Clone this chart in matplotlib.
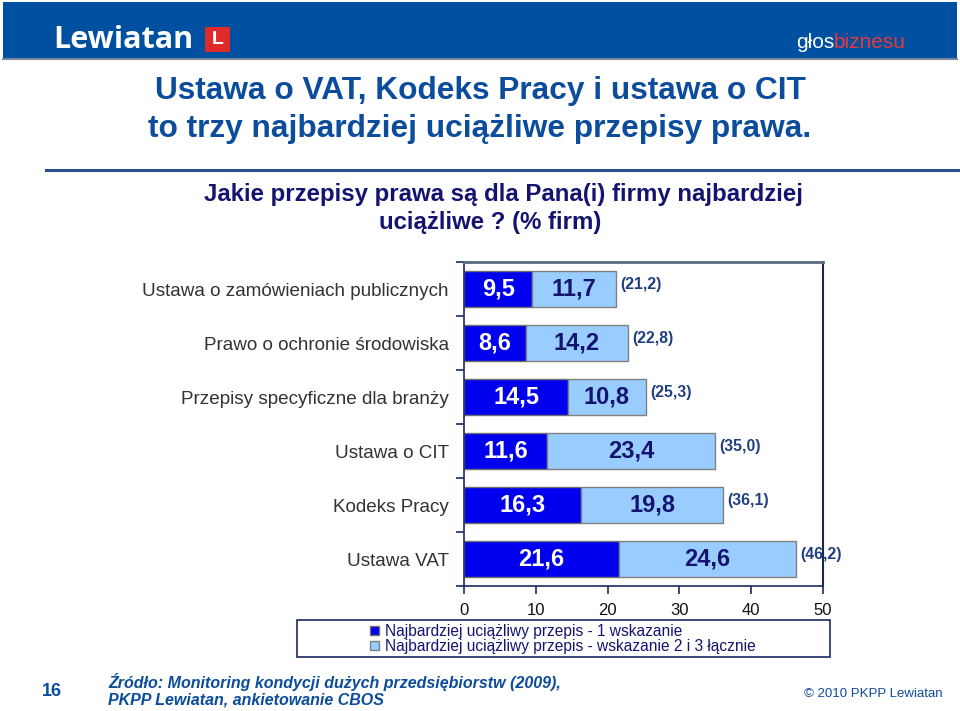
#!/usr/bin/env python3
"""Najbardziej uciazliwe przepisy prawa - stacked horizontal bars."""

import matplotlib

matplotlib.use("Agg")
import matplotlib.pyplot as plt
from matplotlib.patches import Rectangle
from matplotlib.lines import Line2D

plt.rcParams["font.family"] = ["Liberation Sans", "DejaVu Sans"]

# bottom-to-top order as drawn
categories = [
    "Ustawa VAT",
    "Kodeks Pracy",
    "Ustawa o CIT",
    "Przepisy specyficzne dla branży",
    "Prawo o ochronie środowiska",
    "Ustawa o zamówieniach publicznych",
]
first_choice = [21.6, 16.3, 11.6, 14.5, 8.6, 9.5]
second_third = [24.6, 19.8, 23.4, 10.8, 14.2, 11.7]
totals = [46.2, 36.1, 35.0, 25.3, 22.8, 21.2]
x_ticks = [0, 10, 20, 30, 40, 50]
legend_labels = [
    "Najbardziej uciążliwy przepis - 1 wskazanie",
    "Najbardziej uciążliwy przepis - wskazanie 2 i 3 łącznie",
]

W, H = 960, 711
DARK_BLUE = "#0000EE"
LIGHT_BLUE = "#99CCFF"
NAVY = "#141470"
TITLE_BLUE = "#0C4C9C"
HEADER = "#0050A2"


def fx(px):
    return px / W


def fy(py):
    return 1 - py / H


def fmt(v):
    return f"{v:.1f}".replace(".", ",")


fig = plt.figure(figsize=(W / 100, H / 100), dpi=100)

# header band and logos
fig.patches.append(Rectangle((fx(3), fy(59)), (957 - 3) / W, 57 / H, transform=fig.transFigure,
                             facecolor=HEADER, edgecolor="none", zorder=0))
fig.add_artist(Line2D([fx(3), fx(957)], [fy(59), fy(59)], transform=fig.transFigure,
                      color="#7a8aa0", lw=1.5))
fig.text(fx(53), fy(40), "Lewiatan", color="white", fontsize=22, fontweight="bold",
         va="center", ha="left", family=["Open Sans", "DejaVu Sans"])
fig.patches.append(Rectangle((fx(205), fy(52)), 25 / W, 25 / H, transform=fig.transFigure,
                             facecolor="#E02A2A", edgecolor="none"))
fig.text(fx(217.5), fy(39.5), "L", color="white", fontsize=14, fontweight="bold",
         ha="center", va="center")
fig.text(fx(796), fy(43), "głos", color="white", fontsize=15, va="center", ha="left",
         family=["Liberation Sans Narrow", "Liberation Sans"])
fig.text(fx(834), fy(43), "biznesu", color="#E8383C", fontsize=15, va="center", ha="left",
         family=["Liberation Sans Narrow", "Liberation Sans"])

# title block
fig.text(0.5, fy(91), "Ustawa o VAT, Kodeks Pracy i ustawa o CIT", color=TITLE_BLUE,
         fontsize=22.8, fontweight="bold", ha="center", va="center")
fig.text(0.5, fy(129), "to trzy najbardziej uciążliwe przepisy prawa.", color=TITLE_BLUE,
         fontsize=22.8, fontweight="bold", ha="center", va="center")
fig.add_artist(Line2D([fx(46), 1], [fy(170), fy(170)], transform=fig.transFigure,
                      color="#2A4E8C", lw=2.2))
fig.text(fx(503), fy(195), "Jakie przepisy prawa są dla Pana(i) firmy najbardziej", color=NAVY,
         fontsize=17.3, fontweight="bold", ha="center", va="center")
fig.text(fx(490), fy(222), "uciążliwe ? (% firm)", color=NAVY,
         fontsize=17.3, fontweight="bold", ha="center", va="center")

# chart
ax = fig.add_axes([fx(464), fy(586), fx(823) - fx(464), (586 - 262) / H])
y = list(range(len(categories)))
bars1 = ax.barh(y, first_choice, height=0.67, color=DARK_BLUE, edgecolor="#707070",
                linewidth=1, label=legend_labels[0])
bars2 = ax.barh(y, second_third, left=first_choice, height=0.67, color=LIGHT_BLUE,
                edgecolor="#808080", linewidth=1, label=legend_labels[1])

for i in y:
    ax.text(first_choice[i] / 2, i, fmt(first_choice[i]), color="white", fontsize=17,
            fontweight="bold", ha="center", va="center")
    ax.text(first_choice[i] + second_third[i] / 2, i, fmt(second_third[i]), color=NAVY,
            fontsize=17, fontweight="bold", ha="center", va="center")
    ax.annotate(f"({fmt(totals[i])})", (first_choice[i] + second_third[i], i),
                xytext=(3, 3), textcoords="offset points", color="#1F3F80",
                fontsize=11.3, fontweight="bold", ha="left", va="center",
                annotation_clip=False)

ax.set_xlim(0, 50)
ax.set_ylim(-0.5, len(categories) - 0.5)
ax.set_xticks(x_ticks)
ax.set_xticklabels([str(t) for t in x_ticks], fontsize=12, color="#111111")
ax.set_yticks(y)
ax.set_yticklabels(categories, fontsize=13.6, color="#333333")
ax.set_yticks([v - 0.5 for v in range(len(categories) + 1)], minor=True)
ax.tick_params(axis="y", which="major", length=0, pad=11)
ax.tick_params(axis="y", which="minor", length=6, width=1.2, color="#1A2A60", direction="out")
ax.tick_params(axis="x", length=6, width=1.2, color="#1A2A60", direction="out", pad=6)
ax.spines["left"].set_color("#1A2A60")
ax.spines["bottom"].set_color("#1A2A60")
ax.spines["left"].set_linewidth(1.2)
ax.spines["bottom"].set_linewidth(1.2)
ax.spines["top"].set_color("#5A6A7A")
ax.spines["right"].set_color("#1A2A40")
ax.spines["top"].set_linewidth(2)
ax.spines["right"].set_linewidth(1.5)

# legend box
fig.patches.append(Rectangle((fx(297), fy(657)), (830 - 297) / W, 37 / H,
                             transform=fig.transFigure, facecolor="white",
                             edgecolor="#1A2A60", linewidth=1.2))
fig.legend(handles=[bars1, bars2], labels=legend_labels, loc="center left",
           bbox_to_anchor=(fx(362), fy(639)), frameon=False, fontsize=11.2,
           handlelength=0.6, handleheight=0.6, handletextpad=0.4, labelspacing=0.0,
           borderpad=0, labelcolor=NAVY)

# footer
fig.text(fx(52), fy(691), "16", color=TITLE_BLUE, fontsize=13, fontweight="bold",
         ha="center", va="center")
fig.text(fx(108), fy(682), "Źródło: Monitoring kondycji dużych przedsiębiorstw (2009),",
         color=TITLE_BLUE, fontsize=11.5, fontweight="bold", style="italic",
         ha="left", va="center")
fig.text(fx(108), fy(700), "PKPP Lewiatan, ankietowanie CBOS", color=TITLE_BLUE,
         fontsize=11.5, fontweight="bold", style="italic", ha="left", va="center")
fig.text(fx(943), fy(694), "© 2010 PKPP Lewiatan", color=TITLE_BLUE, fontsize=9.5,
         ha="right", va="center")

fig.savefig("out.png", dpi=100)
